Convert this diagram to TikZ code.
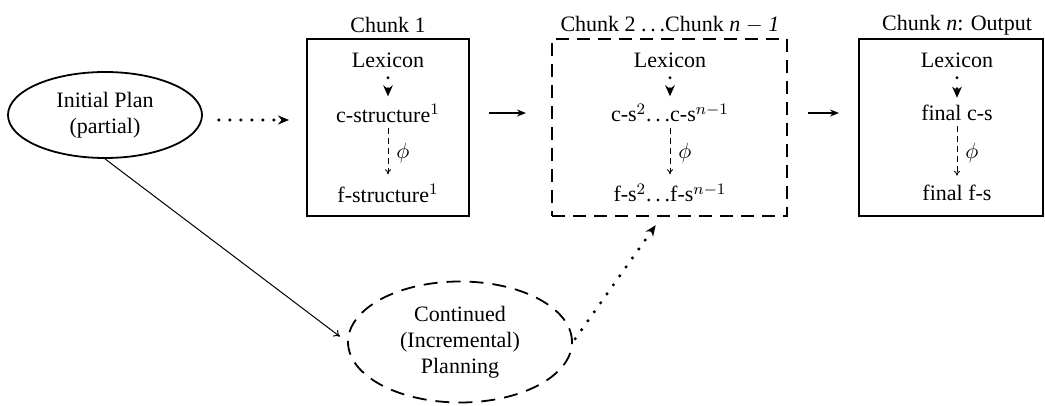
\documentclass[tikz,border=0pt]{standalone}
\usepackage{fontspec}
\setmainfont{Liberation Serif}
\usetikzlibrary{arrows.meta,shapes.geometric}
\newcommand\spdots{.\kern0.17em.\kern0.17em.}
\begin{document}
\begin{tikzpicture}[x=0.5pt,y=-0.5pt,
  every node/.style={font=\fontsize{11}{13}\selectfont},
  txt/.style={inner sep=0pt},
  chunk/.style={draw,line width=1pt,minimum height=88.5pt,inner sep=0pt},
  dchunk/.style={chunk,dash pattern=on 6.5pt off 4pt},
  plan/.style={draw,ellipse,line width=0.9pt,inner sep=0pt,align=center},
  dplan/.style={plan,dash pattern=on 7pt off 4.5pt},
  dots/.style={line width=1.7pt,line cap=round,dash pattern=on 0pt off 5.5pt},
  bigarrow/.style={-{Stealth[length=5.5pt,width=4.5pt]}},
  lexarrow/.style={dots,-{Stealth[length=5.5pt,width=4.8pt]},shorten <=5pt,shorten >=3.5pt},
  flow/.style={line width=0.65pt,-{Stealth[length=4.5pt,width=3.5pt]}},
  mapto/.style={line width=0.45pt,dash pattern=on 3pt off 2pt,-{To[length=2.5pt,width=3pt]},shorten <=2.5pt,shorten >=4.5pt},
  phil/.style={right=4pt,inner sep=0pt},
]
\useasboundingbox (0,0) rectangle (1045,406);

% titles
\node (t1) at (388,25) {Chunk 1};
\node (t2) at (670,25) {Chunk 2 \spdots Chunk \textit{n} $-$ \textit{1}};
\node (t3) at (957,25) {Chunk \textit{n}: Output};

% boxes
\node[chunk,minimum width=81pt] (c1) at (388,127.5) {};
\node[dchunk,minimum width=117.5pt] (c2) at (669.5,127.5) {};
\node[chunk,minimum width=92pt] (c3) at (951,127.5) {};

% chunk 1 content
\node[txt] (lx1) at (388,60) {Lexicon};
\node[txt] (cs1) at (388,113) {c-structure$^1$};
\node[txt] (fs1) at (388,193) {f-structure$^1$};
% chunk 2 content
\node[txt] (lx2) at (670,60) {Lexicon};
\node[txt] (cs2) at (670,113) {c-s$^2$\spdots{}c-s$^{n-1}$};
\node[txt] (fs2) at (670,193) {f-s$^2$\spdots{}f-s$^{n-1}$};
% chunk n content
\node[txt] (lx3) at (957,60) {Lexicon};
\node[txt] (cs3) at (957,113) {final c-s};
\node[txt] (fs3) at (957,193) {final f-s};

% plans
\node[plan,minimum width=97pt,minimum height=43pt] (ip) at (105,115) {Initial Plan\\(partial)};
\node[dplan,minimum width=112pt,minimum height=60.5pt] (cp) at (460,342) {Continued\\(Incremental)\\Planning};

% inner arrows
\draw[lexarrow] (lx1) -- (cs1);
\draw[lexarrow] (lx2) -- (cs2);
\draw[lexarrow] (lx3) -- (cs3);
\draw[mapto] (cs1) -- node[phil] (p1) {$\phi$} (fs1);
\draw[mapto] (cs2) -- node[phil] (p2) {$\phi$} (fs2);
\draw[mapto] (cs3) -- node[phil] (p3) {$\phi$} (fs3);

% connectors
\draw[dots,bigarrow,shorten <=8pt,shorten >=8.5pt] ([yshift=-2.5pt]ip.east) -- ([yshift=-2.5pt]ip.east -| c1.west);
\draw[flow,shorten <=9.5pt,shorten >=12.5pt] (cs1 -| c1.east) -- (cs1 -| c2.west);
\draw[flow,shorten <=10pt,shorten >=9.5pt] (cs2 -| c2.east) -- (cs2 -| c3.west);
\draw[line width=0.5pt,-{To[length=3pt,width=4pt]},shorten >=4.5pt] (ip.south) -- (cp.west);
\draw[dots,bigarrow,shorten <=2pt,shorten >=5pt] (cp.east) -- ([xshift=-4pt]c2.south);
\end{tikzpicture}
\end{document}
